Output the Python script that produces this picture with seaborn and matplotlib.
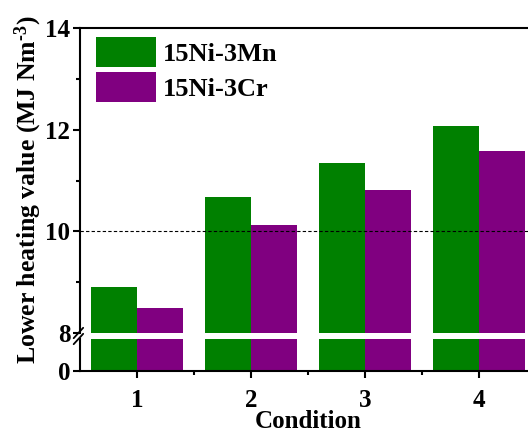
import matplotlib
matplotlib.use("Agg")
import matplotlib.pyplot as plt
import seaborn as sns
import pandas as pd

conditions = ["1", "2", "3", "4"]
mn_values = [8.91, 10.67, 11.34, 12.07]
cr_values = [8.50, 10.13, 10.81, 11.58]
series_names = ["15Ni-3Mn", "15Ni-3Cr"]
colors = ["#008000", "#800080"]

df = pd.DataFrame({
    "Condition": conditions * 2,
    "value": mn_values + cr_values,
    "series": [series_names[0]] * 4 + [series_names[1]] * 4,
})

sns.set_style("ticks")
plt.rcParams["font.family"] = ["Liberation Serif", "DejaVu Serif"]
plt.rcParams["font.weight"] = "bold"
plt.rcParams["mathtext.fontset"] = "custom"
plt.rcParams["mathtext.rm"] = "Liberation Serif:bold"
plt.rcParams["mathtext.bf"] = "Liberation Serif:bold"
plt.rcParams["mathtext.default"] = "rm"
for k in ("text.color", "axes.labelcolor", "xtick.color", "ytick.color"):
    plt.rcParams[k] = "black"

W, H = 528, 432
fig = plt.figure(figsize=(W / 100, H / 100), dpi=100)

left = 80 / W
width = 456 / W
ax_top = fig.add_axes([left, (H - 333) / H, width, (333 - 28) / H])
ax_bot = fig.add_axes([left, (H - 371) / H, width, (371 - 339) / H], sharex=ax_top)

for ax in (ax_top, ax_bot):
    sns.barplot(data=df, x="Condition", y="value", hue="series", palette=colors,
                width=0.8, saturation=1, ax=ax, legend=(ax is ax_top), linewidth=0)
    ax.set_xlim(-0.5, 3.5)
    ax.set_xlabel("")
    ax.set_ylabel("")
    for s in ("left", "bottom", "top", "right"):
        ax.spines[s].set_linewidth(1.5)
        ax.spines[s].set_color("black")

ax_top.set_ylim(8, 14)
ax_top.set_yticks([8, 10, 12, 14])
ax_top.set_yticks([9, 11, 13], minor=True)
ax_top.spines["bottom"].set_visible(False)
ax_top.spines["right"].set_visible(False)
ax_top.tick_params(axis="x", which="both", bottom=False, labelbottom=False)
ax_top.axhline(10, ls=(0, (3, 2)), color="black", lw=0.8, zorder=3)

ax_bot.set_ylim(0, 32 / 51)
ax_bot.set_yticks([0])
ax_bot.spines["top"].set_visible(False)
ax_bot.spines["right"].set_visible(False)
ax_bot.set_xticks([0, 1, 2, 3])
ax_bot.set_xticks([0.5, 1.5, 2.5], minor=True)
ax_bot.set_xticklabels(conditions)

for ax in (ax_top, ax_bot):
    ax.tick_params(axis="both", which="major", direction="out", length=5, width=1.5,
                   labelsize=18, pad=2)
    ax.tick_params(axis="both", which="minor", direction="out", length=3, width=1.5)
    for lab in ax.get_xticklabels() + ax.get_yticklabels():
        lab.set_fontweight("bold")

ax_bot.tick_params(axis="x", pad=8)

# break marks
d = 0.012
kw = dict(transform=fig.transFigure, color="black", lw=1.3, clip_on=False)
x0 = left
for yc in ((H - 333) / H, (H - 339) / H):
    fig.add_artist(plt.Line2D([x0 - d, x0 + d * 0.5], [yc - 0.012, yc + 0.012], **kw))

fig.text((80 + 228) / W, (H - 422) / H, "Condition", ha="center", va="center",
         fontsize=18, fontweight="bold")
fig.text(28 / W, (H - 190) / H, r"Lower heating value (MJ Nm$^{\text{-3}}$)", rotation=90,
         ha="center", va="center", fontsize=18.5, fontweight="bold")

leg = ax_top.legend(loc="upper left", bbox_to_anchor=(16 / 456, 1 - 9 / 305),
                    frameon=False, borderaxespad=0, borderpad=0,
                    prop={"size": 19, "weight": "bold"},
                    handlelength=60 / 26.4, handleheight=1.36, handletextpad=0.25,
                    labelspacing=0.2)

fig.savefig("out.png", dpi=100)
